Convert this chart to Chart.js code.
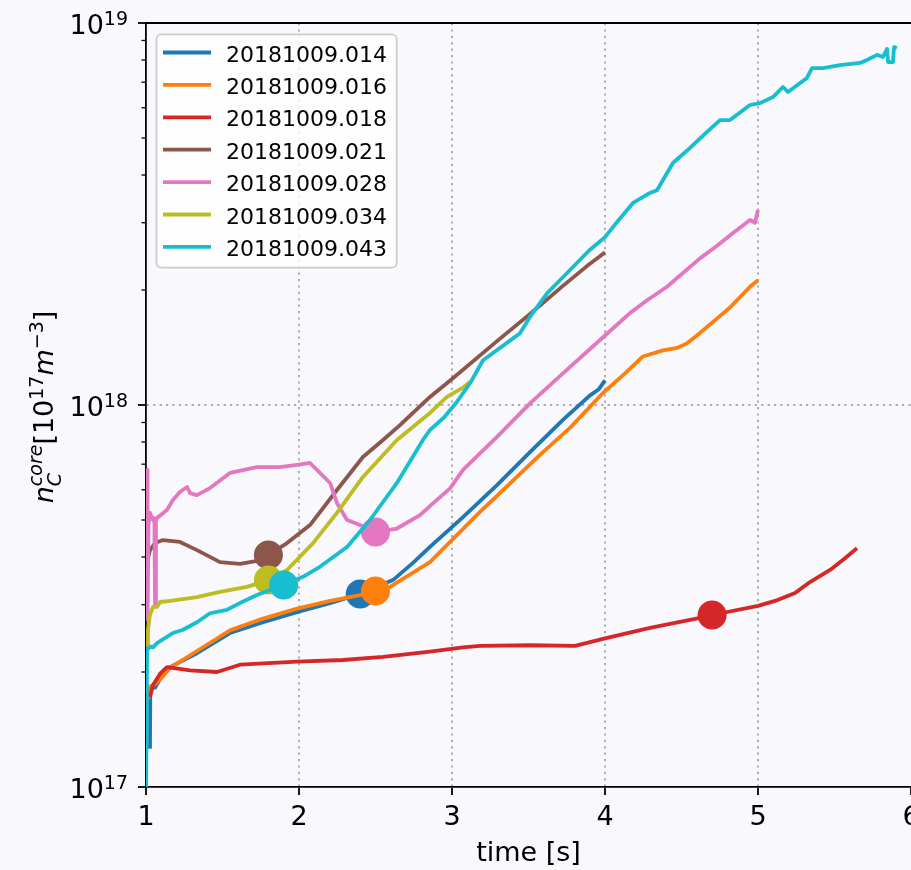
<!DOCTYPE html>
<html>
<head>
<meta charset="utf-8">
<script src="https://cdn.jsdelivr.net/npm/chart.js@4.4.1/dist/chart.umd.min.js"></script>
<style>
  html, body { margin: 0; padding: 0; overflow: hidden; background: #f8f8fd; }
  canvas { display: block; }
</style>
</head>
<body>
<canvas id="ncore" width="940" height="870"></canvas>
<script>
const shots = ['20181009.014', '20181009.016', '20181009.018', '20181009.021',
    '20181009.028', '20181009.034', '20181009.043'];
const colors = ['#1f77b4', '#ff7f0e', '#d62728', '#8c564b', '#e377c2', '#bcbd22', '#17becf'];

// time [s] and core carbon density [m^-3]
const t014 = [1.026, 1.028, 1.06, 1.09, 1.157, 1.333, 1.549, 1.765, 1.987, 2.203, 2.4, 2.614, 2.745,
    2.856, 3.072, 3.294, 3.51, 3.725, 3.902, 3.96, 4.0];
const n014 = [1.26e17, 1.82e17, 1.82e17, 1.91e17, 2.06e17, 2.24e17, 2.53e17, 2.70e17, 2.87e17, 3.03e17,
    3.20e17, 3.48e17, 3.86e17, 4.25e17, 5.09e17, 6.17e17, 7.53e17, 9.14e17, 1.06e18, 1.10e18, 1.16e18];

const t016 = [1.013, 1.026, 1.06, 1.1, 1.157, 1.333, 1.549, 1.765, 1.987, 2.203, 2.4, 2.5, 2.595, 2.856,
    3.183, 3.294, 3.575, 3.771, 3.987, 4.131, 4.248, 4.379, 4.471, 4.536, 4.601, 4.706, 4.817, 4.948, 5.0];
const n016 = [1.70e17, 1.83e17, 1.86e17, 1.93e17, 2.05e17, 2.27e17, 2.57e17, 2.76e17, 2.93e17, 3.07e17,
    3.18e17, 3.26e17, 3.34e17, 3.88e17, 5.25e17, 5.78e17, 7.40e17, 8.71e17, 1.075e18, 1.21e18, 1.34e18,
    1.39e18, 1.41e18, 1.45e18, 1.52e18, 1.65e18, 1.80e18, 2.04e18, 2.12e18];

const t018 = [1.026, 1.046, 1.092, 1.137, 1.288, 1.464, 1.614, 1.987, 2.288, 2.549, 2.856, 3.072, 3.183,
    3.51, 3.804, 4.0, 4.294, 4.621, 4.7, 5.0, 5.111, 5.242, 5.34, 5.471, 5.569, 5.647];
const n018 = [1.72e17, 1.85e17, 1.98e17, 2.06e17, 2.02e17, 2.00e17, 2.09e17, 2.13e17, 2.15e17, 2.19e17,
    2.26e17, 2.32e17, 2.34e17, 2.35e17, 2.34e17, 2.45e17, 2.61e17, 2.77e17, 2.82e17, 2.98e17, 3.07e17,
    3.22e17, 3.44e17, 3.70e17, 3.97e17, 4.22e17];

const t021 = [1.007, 1.026, 1.059, 1.111, 1.222, 1.333, 1.484, 1.614, 1.765, 1.8, 1.922, 2.072, 2.248,
    2.418, 2.549, 2.66, 2.856, 3.0, 3.294, 3.51, 3.725, 3.882, 3.967, 4.0];
const n021 = [3.88e17, 4.17e17, 4.35e17, 4.43e17, 4.38e17, 4.17e17, 3.88e17, 3.84e17, 3.93e17, 4.05e17,
    4.35e17, 4.85e17, 5.99e17, 7.31e17, 8.10e17, 8.86e17, 1.05e18, 1.17e18, 1.47e18, 1.73e18, 2.05e18,
    2.31e18, 2.45e18, 2.51e18];

const t028 = [1.007, 1.010, 1.016, 1.026, 1.046, 1.055, 1.059, 1.065, 1.072, 1.137, 1.176, 1.222, 1.268,
    1.288, 1.333, 1.418, 1.549, 1.725, 1.876, 1.987, 2.072, 2.137, 2.203, 2.248, 2.314, 2.399, 2.5, 2.64,
    2.791, 2.87, 2.987, 3.072, 3.294, 3.51, 3.725, 4.0, 4.163, 4.275, 4.405, 4.621, 4.732, 4.837, 4.948,
    4.98, 5.0];
const n028 = [6.76e17, 2.75e17, 4.85e17, 5.22e17, 5.00e17, 5.05e17, 3.00e17, 5.00e17, 5.06e17, 5.31e17,
    5.64e17, 5.92e17, 6.10e17, 5.88e17, 5.81e17, 6.06e17, 6.64e17, 6.88e17, 6.88e17, 6.97e17, 7.05e17,
    6.64e17, 6.25e17, 5.54e17, 5.00e17, 4.85e17, 4.65e17, 4.75e17, 5.15e17, 5.50e17, 6.05e17, 6.76e17,
    8.25e17, 1.01e18, 1.21e18, 1.52e18, 1.74e18, 1.88e18, 2.04e18, 2.42e18, 2.61e18, 2.82e18, 3.05e18,
    3.00e18, 3.24e18];

const t034 = [1.007, 1.013, 1.026, 1.046, 1.072, 1.092, 1.157, 1.333, 1.484, 1.66, 1.8, 1.922, 2.092,
    2.248, 2.418, 2.64, 2.856, 2.967, 3.072, 3.118];
const n034 = [2.32e17, 2.58e17, 2.83e17, 2.96e17, 2.96e17, 3.05e17, 3.07e17, 3.14e17, 3.24e17, 3.34e17,
    3.48e17, 3.70e17, 4.35e17, 5.22e17, 6.48e17, 8.10e17, 9.53e17, 1.05e18, 1.11e18, 1.15e18];

const t043 = [1.0, 1.007, 1.013, 1.026, 1.046, 1.072, 1.176, 1.242, 1.333, 1.418, 1.529, 1.614, 1.725,
    1.9, 2.026, 2.137, 2.314, 2.464, 2.64, 2.81, 2.856, 2.95, 3.033, 3.118, 3.203, 3.444, 3.51, 3.621, 3.725,
    3.902, 4.0, 4.078, 4.183, 4.294, 4.34, 4.444, 4.556, 4.667, 4.752, 4.817, 4.948, 5.013, 5.098, 5.163,
    5.196, 5.32, 5.353, 5.425, 5.536, 5.667, 5.712, 5.778, 5.817, 5.843, 5.85, 5.882, 5.889, 5.908];
const n043 = [0.9e17, 2.28e17, 2.28e17, 2.33e17, 2.32e17, 2.38e17, 2.53e17, 2.58e17, 2.70e17, 2.85e17,
    2.91e17, 3.03e17, 3.18e17, 3.38e17, 3.55e17, 3.77e17, 4.25e17, 5.00e17, 6.25e17, 8.10e17, 8.60e17,
    9.30e17, 1.02e18, 1.14e18, 1.31e18, 1.54e18, 1.70e18, 1.96e18, 2.16e18, 2.55e18, 2.75e18, 3.01e18,
    3.38e18, 3.59e18, 3.65e18, 4.30e18, 4.71e18, 5.19e18, 5.57e18, 5.57e18, 6.10e18, 6.17e18, 6.40e18,
    6.80e18, 6.60e18, 7.18e18, 7.62e18, 7.62e18, 7.76e18, 7.86e18, 8.00e18, 8.25e18, 8.15e18, 8.55e18,
    7.90e18, 7.90e18, 8.65e18, 8.60e18];

// big dots, one per shot
const markTimes = [2.4, 2.5, 4.7, 1.8, 2.5, 1.8, 1.9];
const markDens = [3.20e17, 3.26e17, 2.82e17, 4.05e17, 4.65e17, 3.48e17, 3.38e17];

const xTicks = [1, 2, 3, 4, 5, 6];
const yMajor = [1e17, 1e18, 1e19];

const times = [t014, t016, t018, t021, t028, t034, t043];
const dens = [n014, n016, n018, n021, n028, n034, n043];

const FONT = 'DejaVu Sans';
const GRID = '#adadad';
const NONE = 'rgba(0,0,0,0)';
const LW = 3.8;

let datasets = [];
shots.forEach(function (s, i) {
    datasets.push({
        label: s,
        data: times[i].map((t, j) => ({x: t, y: dens[i][j]})),
        borderColor: colors[i],
        borderWidth: LW,
        borderJoinStyle: 'round',
        pointRadius: 0,
        tension: 0,
        fill: false,
        clip: 0,
        order: 100 - 2 * i
    });
    datasets.push({
        label: '',
        data: [{x: markTimes[i], y: markDens[i]}],
        showLine: false,
        pointRadius: 14.5,
        pointBackgroundColor: colors[i],
        pointBorderWidth: 0,
        clip: false,
        order: 99 - 2 * i
    });
});

const background = {
    id: 'background',
    beforeDraw(chart) {
        const ctx = chart.ctx;
        ctx.save();
        ctx.fillStyle = '#f8f8fd';
        ctx.fillRect(0, 0, chart.width, chart.height);
        ctx.restore();
    }
};

function drawYLabel(ctx, cx, cy) {
    const it = s => 'italic ' + s + 'px ' + FONT;
    const rm = s => s + 'px ' + FONT;
    const w = (t, f) => { ctx.font = f; return ctx.measureText(t).width; };
    const put = (t, f, x, dy) => { ctx.font = f; ctx.fillText(t, x, dy); };

    ctx.save();
    ctx.translate(cx, cy);
    ctx.rotate(-Math.PI / 2);
    ctx.fillStyle = '#000';
    ctx.textAlign = 'left';
    ctx.textBaseline = 'alphabetic';

    const wn = w('n', it(27));
    const wsub = Math.max(w('C', it(19)), w('core', it(19)));
    const total = wn + wsub + w('[', rm(27)) + w('10', rm(27)) + w('17', rm(19)) +
        w('m', it(27)) + w('\u22123', rm(19)) + w(']', rm(27));
    let x = -total / 2;
    put('n', it(27), x, 0); x += wn;
    put('C', it(19), x, 8);
    put('core', it(19), x, -11); x += wsub;
    put('[', rm(27), x, 0); x += w('[', rm(27));
    put('10', rm(27), x, 0); x += w('10', rm(27));
    put('17', rm(19), x, -10); x += w('17', rm(19));
    put('m', it(27), x, 0); x += w('m', it(27));
    put('\u22123', rm(19), x, -10); x += w('\u22123', rm(19));
    put(']', rm(27), x, 0);
    ctx.restore();
}

const decorations = {
    id: 'decorations',
    afterDraw(chart) {
        const ctx = chart.ctx;
        const area = chart.chartArea;
        const y = chart.scales.y;
        ctx.save();

        // top spine
        ctx.strokeStyle = '#000';
        ctx.lineWidth = 1.8;
        ctx.beginPath();
        ctx.moveTo(area.left - 0.9, area.top);
        ctx.lineTo(area.right + 1, area.top);
        ctx.stroke();

        // minor ticks on the log axis
        ctx.lineWidth = 1.3;
        for (let e = 17; e < 19; e++) {
            for (let k = 2; k <= 9; k++) {
                const py = y.getPixelForValue(k * Math.pow(10, e));
                ctx.beginPath();
                ctx.moveTo(area.left - 4.5, py);
                ctx.lineTo(area.left, py);
                ctx.stroke();
            }
        }

        // 10^n tick labels
        ctx.fillStyle = '#000';
        ctx.textAlign = 'right';
        ctx.textBaseline = 'alphabetic';
        yMajor.forEach(function (v) {
            const py = y.getPixelForValue(v);
            const exp = String(Math.round(Math.log10(v)));
            ctx.font = '19px ' + FONT;
            ctx.fillText(exp, 128, py + 2);
            const we = ctx.measureText(exp).width;
            ctx.font = '27px ' + FONT;
            ctx.fillText('10', 128 - we, py + 11);
        });

        drawYLabel(ctx, 53, (area.top + area.bottom) / 2 + 2);

        // legend
        const lx = 156.5, ly = 34.3, lw = 240.2, lh = 233.4;
        ctx.beginPath();
        ctx.roundRect(lx, ly, lw, lh, 5);
        ctx.fillStyle = 'rgba(255,255,255,0.8)';
        ctx.fill();
        ctx.strokeStyle = '#cccccc';
        ctx.lineWidth = 1.8;
        ctx.stroke();
        ctx.textAlign = 'left';
        ctx.font = '22px ' + FONT;
        shots.forEach(function (s, i) {
            const ry = 52.5 + i * 32.4;
            ctx.strokeStyle = colors[i];
            ctx.lineWidth = LW;
            ctx.beginPath();
            ctx.moveTo(163, ry);
            ctx.lineTo(211, ry);
            ctx.stroke();
            ctx.fillStyle = '#000';
            ctx.fillText(s, 226, ry + 9);
        });
        ctx.restore();
    }
};

let ncore = document.getElementById('ncore').getContext('2d');
new Chart(ncore, {
    type: 'line',
    data: {
        datasets: datasets
    },
    options: {
        responsive: false,
        animation: false,
        devicePixelRatio: 1,
        events: [],
        layout: {
            padding: {left: 0, right: 29, top: 23, bottom: 0}
        },
        plugins: {
            legend: {display: false},
            tooltip: {enabled: false}
        },
        scales: {
            x: {
                type: 'linear',
                min: 1,
                max: 6,
                afterBuildTicks: s => { s.ticks = xTicks.map(v => ({value: v})); },
                ticks: {
                    font: {family: FONT, size: 27},
                    color: '#000',
                    padding: 6.5,
                    maxRotation: 0,
                    autoSkip: false
                },
                grid: {
                    color: c => (c.tick && c.tick.value > 1 && c.tick.value < 6) ? GRID : NONE,
                    lineWidth: 2,
                    tickLength: 8,
                    tickWidth: 1.8,
                    tickColor: '#000'
                },
                border: {color: '#000', width: 1.8, dash: [2.2, 4.2]},
                title: {
                    display: true,
                    text: 'time [s]',
                    font: {family: FONT, size: 27},
                    color: '#000',
                    padding: 0
                },
                afterFit: s => { s.height = 83; }
            },
            y: {
                type: 'logarithmic',
                min: 1e17,
                max: 1e19,
                afterBuildTicks: s => { s.ticks = yMajor.map(v => ({value: v, major: true})); },
                ticks: {display: false},
                grid: {
                    color: c => (c.tick && c.tick.value === 1e18) ? GRID : NONE,
                    lineWidth: 2,
                    tickLength: 8,
                    tickWidth: 1.8,
                    tickColor: '#000'
                },
                border: {color: '#000', width: 1.8, dash: [2.2, 4.2]},
                afterFit: s => { s.width = 146; }
            }
        }
    },
    plugins: [background, decorations]
});
</script>
</body>
</html>
